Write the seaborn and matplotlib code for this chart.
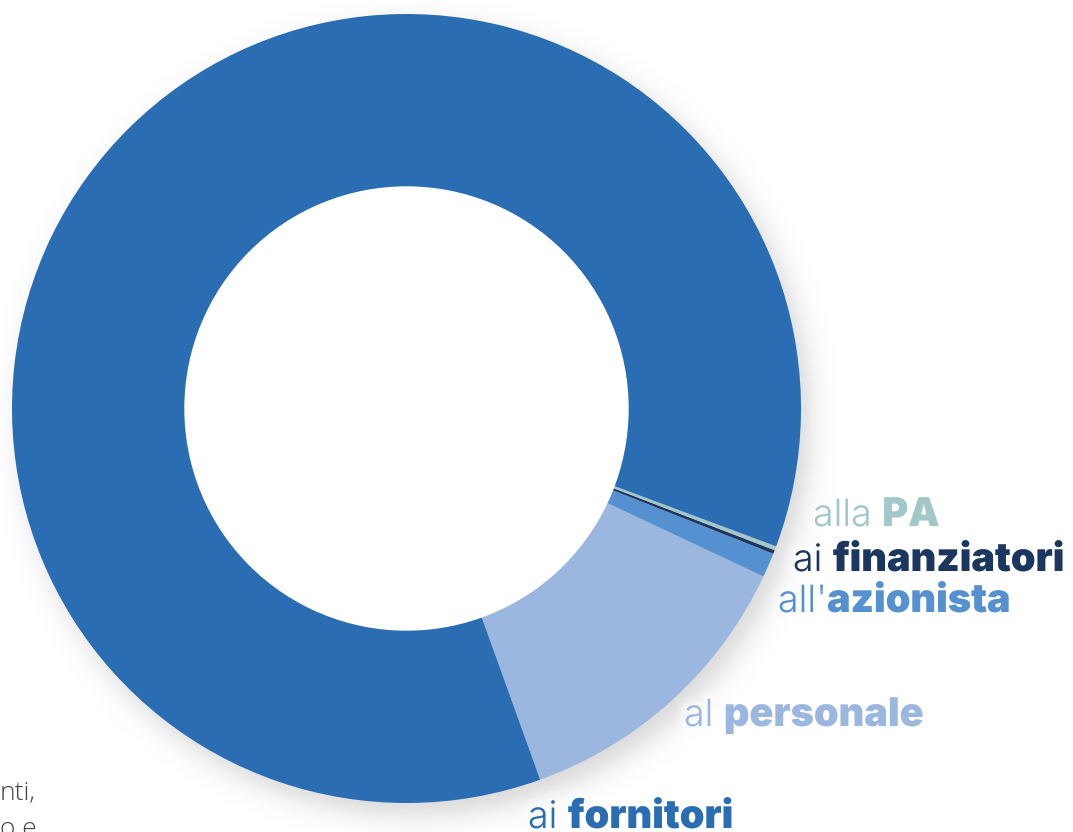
"""
Donut chart of value distribution to stakeholders.
"""

import numpy as np
import matplotlib.pyplot as plt
import matplotlib.patheffects as pe
import seaborn as sns

# data (share of value, %), ordered counterclockwise from the lower boundary
labels_prefix = ['al ', "all'", 'ai ', 'alla ', 'ai ']
labels_bold = ['personale', 'azionista', 'finanziatori', 'PA', 'fornitori']
shares = [12.5, 1.0, 0.15, 0.17, 86.18]
colors = ['#9bb7e0', '#5590d0', '#1b365f', '#a3c7c9', '#2a6db3']

# label anchor points in pixel coords (left edge, baseline)
label_x = [684, 778, 793, 813, 528]
label_y = [726, 612, 571, 526, 828]

W, H = 1073, 832
CX, CY = 406.5, 832 - 408.5
R_OUT, R_IN = 394.5, 221.5

sns.set_theme(style='white')
plt.rcParams['font.family'] = ['Inter', 'DejaVu Sans']

fig = plt.figure(figsize=(W / 100, H / 100), dpi=100)
ax = fig.add_axes([0, 0, 1, 1])

# soft drop shadow behind the ring
xx, yy = np.meshgrid(np.arange(W) + 0.5, H - (np.arange(H) + 0.5))
d = np.hypot(xx - (CX + 9), yy - (CY - 12))
shadow = 0.24 * 0.5 * (1 - np.tanh((d - R_OUT) / 16))
rgba = np.zeros((H, W, 4))
rgba[..., :3] = 0.35
rgba[..., 3] = shadow
ax.imshow(rgba, extent=(0, W, 0, H), zorder=0, interpolation='bilinear')

ax.pie(shares, colors=colors, startangle=-70.2, counterclock=True,
       center=(CX, CY), radius=R_OUT,
       wedgeprops=dict(width=R_OUT - R_IN, linewidth=0), frame=True)
ax.add_patch(plt.Circle((CX, CY), R_IN, color='white', zorder=3))
ax.set_xlim(0, W)
ax.set_ylim(0, H)
ax.set_aspect('equal')
ax.axis('off')

glow = [pe.Stroke(linewidth=14, foreground='white', alpha=0.2),
        pe.Stroke(linewidth=7, foreground='white', alpha=0.35),
        pe.Normal()]

for pre, bold, c, x, y in zip(labels_prefix, labels_bold, colors, label_x, label_y):
    t = ax.text(x, H - y, pre, color=c, fontsize=27, fontweight=300,
                ha='left', va='baseline', zorder=5, path_effects=glow)
    ax.annotate(bold, xy=(1, 0), xycoords=t, xytext=(0, 0),
                textcoords='offset points', color=c, fontsize=28.5,
                fontweight=900, ha='left', va='bottom', zorder=5,
                path_effects=glow)

# clipped paragraph text at the lower left
ax.text(0, H - 800, 'nti,', color='#444444', fontsize=19, family='Open Sans',
        fontweight=300, ha='left', va='baseline')
ax.text(0, H - 836, 'o e', color='#444444', fontsize=19, family='Open Sans',
        fontweight=300, ha='left', va='baseline')

fig.savefig('out.png', dpi=100, facecolor='white')
